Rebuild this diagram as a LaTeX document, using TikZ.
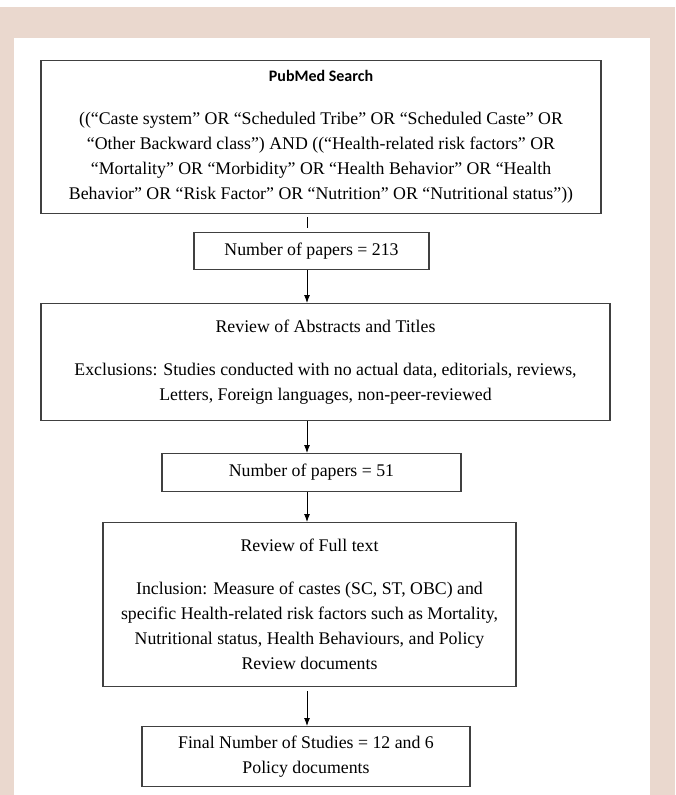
\documentclass[tikz,border=0pt]{standalone}
\usepackage{fontspec}
\setmainfont{Liberation Serif}
\newfontfamily\headfont{Carlito}
\usetikzlibrary{arrows.meta, positioning}
\definecolor{framepink}{RGB}{234,216,206}
\definecolor{boxline}{RGB}{64,64,64}

\begin{document}
\begin{tikzpicture}[x=1pt, y=-1pt, font=\fontsize{17.8}{25}\selectfont,
	flowbox/.style={draw=boxline, line width=1.2pt, align=center, inner sep=0pt, anchor=north},
	flowline/.style={line width=0.9pt},
	flowarrow/.style={flowline, -{Latex[length=8pt, width=6pt]}}]
	\def\colx{307}
	\def\gap{18pt}

	\useasboundingbox (0,0) rectangle (675,795);
	\fill[framepink]	(0,7) rectangle (675,795);
	\fill[white]		(14,38) rectangle (650,795);
	\coordinate (axis) at (\colx,0);

	\node[flowbox, minimum width=560pt, minimum height=153pt] (search) at (321,60)
		{{\headfont\bfseries\fontsize{16}{20}\selectfont PubMed Search}\\[\gap]
		((“Caste system” OR “Scheduled Tribe” OR “Scheduled Caste” OR\\
		“Other Backward class”) AND ((“Health-related risk factors” OR\\
		“Mortality” OR “Morbidity” OR “Health Behavior” OR “Health\\
		Behavior” OR “Risk Factor” OR “Nutrition” OR “Nutritional status”))};
	\node[flowbox, minimum width=235pt, minimum height=37pt] (papersA) at (311.5,232)
		{Number of papers = 213};
	\node[flowbox, minimum width=569pt, minimum height=117pt] (abstracts) at (325.5,303)
		{Review of Abstracts and Titles\\[\gap]
		Exclusions: Studies conducted with no actual data, editorials, reviews,\\
		Letters, Foreign languages, non-peer-reviewed};
	\node[flowbox, minimum width=299pt, minimum height=38pt] (papersB) at (311.5,453)
		{Number of papers = 51};
	\node[flowbox, minimum width=413pt, minimum height=164pt] (fulltext) at (309.5,522)
		{Review of Full text\\[\gap]
		Inclusion: Measure of castes (SC, ST, OBC) and\\
		specific Health-related risk factors such as Mortality,\\
		Nutritional status, Health Behaviours, and Policy\\
		Review documents};
	\node[flowbox, minimum width=328pt, minimum height=60pt] (final) at (306,726)
		{Final Number of Studies = 12 and 6\\
		Policy documents};

	\draw[flowline, shorten <=3pt, shorten >=4pt]	(axis |- search.south) -- (axis |- papersA.north);
	\draw[flowarrow]	(axis |- papersA.south) -- (axis |- abstracts.north);
	\draw[flowarrow]	(axis |- abstracts.south) -- (axis |- papersB.north);
	\draw[flowarrow]	(axis |- papersB.south) -- (axis |- fulltext.north);
	\draw[flowarrow, shorten <=4pt]	(axis |- fulltext.south) -- (axis |- final.north);
\end{tikzpicture}
\end{document}
